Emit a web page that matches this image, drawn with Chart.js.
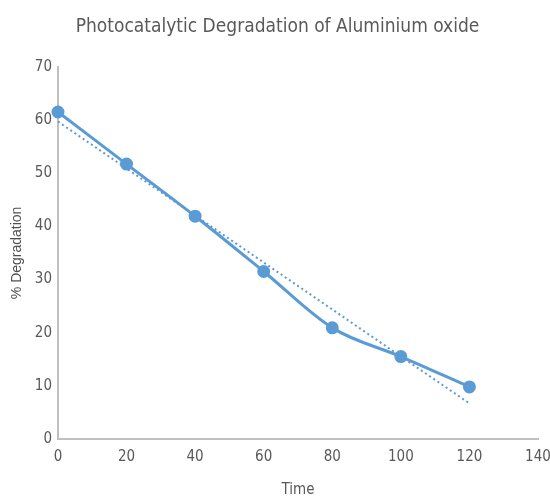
<!DOCTYPE html>
<html><head><meta charset="utf-8">
<script src="https://cdn.jsdelivr.net/npm/chart.js@4"></script>
<style>html,body{margin:0;padding:0;background:#fff}#wrap{width:550px;height:503px}</style>
</head><body><div id="wrap"><canvas id="c" width="550" height="503"></canvas></div>
<script>
const times = [0, 20, 40, 60, 80, 100, 120];
const degradation = [61.5, 51.7, 41.9, 31.5, 20.9, 15.5, 9.8];
const trendTimes = [0, 120];
const trendValues = [59.7, 6.7];
const xTicks = [0, 20, 40, 60, 80, 100, 120, 140];
const yTicks = [0, 10, 20, 30, 40, 50, 60, 70];
const titleText = 'Photocatalytic Degradation of Aluminium oxide';
const xTitle = 'Time';
const yTitle = '% Degradation';

const blue = '#5B9BD5';
const grey = '#595959';
const narrow = "'Liberation Sans Narrow', 'DejaVu Sans Condensed', sans-serif";

new Chart(document.getElementById('c'), {
  type: 'line',
  data: {
    datasets: [
      {
        label: 'Degradation',
        data: times.map((t, i) => ({x: t, y: degradation[i]})),
        borderColor: blue, backgroundColor: blue,
        borderWidth: 3, pointRadius: 5, pointHoverRadius: 5,
        tension: 0.3, cubicInterpolationMode: 'monotone', clip: false
      },
      {
        label: 'Trend',
        data: trendTimes.map((t, i) => ({x: t, y: trendValues[i]})),
        borderColor: blue, borderWidth: 2, borderDash: [2, 3],
        pointRadius: 0, tension: 0, clip: false
      }
    ]
  },
  options: {
    responsive: false, animation: false,
    layout: {padding: {left: 5, right: 0, top: 16, bottom: 0}},
    plugins: {
      legend: {display: false}, tooltip: {enabled: false},
      title: {display: true, text: titleText, color: grey,
        font: {family: narrow, size: 19, weight: 'normal'}, padding: {top: 0, bottom: 28}}
    },
    scales: {
      x: {
        type: 'linear', min: 0, max: 140,
        afterBuildTicks: s => { s.ticks = xTicks.map(v => ({value: v})); },
        afterFit: s => { s.paddingRight = 12; },
        grid: {display: false, drawTicks: false},
        border: {color: '#BFBFBF', width: 2},
        ticks: {color: grey, font: {family: narrow, size: 15}, padding: 9, maxRotation: 0},
        title: {display: true, text: xTitle, color: grey, font: {family: narrow, size: 15}, padding: {top: 6}}
      },
      y: {
        min: 0, max: 70,
        afterBuildTicks: s => { s.ticks = yTicks.map(v => ({value: v})); },
        grid: {display: false, drawTicks: false},
        border: {color: '#BFBFBF', width: 2},
        ticks: {color: grey, font: {family: narrow, size: 15}, padding: 6},
        title: {display: true, text: yTitle, color: '#505050', font: {family: "'Liberation Sans', Arial, sans-serif", size: 14}, padding: {bottom: 3}}
      }
    }
  }
});
</script></body></html>
